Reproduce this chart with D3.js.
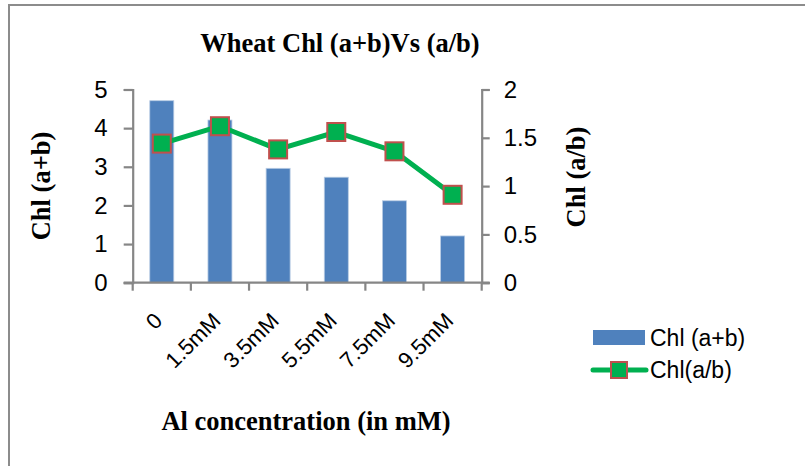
<!DOCTYPE html>
<html><head><meta charset="utf-8">
<script src="https://cdn.jsdelivr.net/npm/d3@7/dist/d3.min.js"></script>
<style>body{margin:0;background:#fff}</style>
</head><body>
<svg id="c" width="805" height="466"></svg>
<script>
const categories = ["0","1.5mM","3.5mM","5.5mM","7.5mM","9.5mM"];
const chlAB = [4.71, 4.21, 2.96, 2.73, 2.12, 1.21];
const chlRatio = [1.44, 1.62, 1.38, 1.56, 1.36, 0.91];
const leftTicks = [0,1,2,3,4,5];
const rightTicks = [0,0.5,1,1.5,2];

const svg = d3.select("#c");
const axisColor = "#868686";
// frame
svg.append("rect").attr("x",9).attr("y",5).attr("width",810).attr("height",480)
  .attr("fill","none").attr("stroke","#8c8c8c").attr("stroke-width",2);

const m = {l:132.7, r:481.7, t:89.5, b:282.7};
const x = d3.scaleBand().domain(categories).range([m.l,m.r]).paddingInner(0).paddingOuter(0);
const yL = d3.scaleLinear().domain([0,5]).range([m.b,m.t]);
const yR = d3.scaleLinear().domain([0,2]).range([m.b,m.t]);

// bars
const bw = 24;
svg.append("g").selectAll("rect").data(chlAB).join("rect")
  .attr("x",(d,i)=>x(categories[i])+x.bandwidth()/2-bw/2)
  .attr("y",d=>yL(d)).attr("width",bw).attr("height",d=>yL(0)-yL(d))
  .attr("fill","#4F81BD").attr("stroke","#b8cce4").attr("stroke-width",0.8);

// axes
const gL = svg.append("g").attr("transform",`translate(${m.l},0)`)
  .call(d3.axisLeft(yL).tickValues(leftTicks).tickSize(9).tickPadding(16).tickFormat(d3.format("d")));
const gR = svg.append("g").attr("transform",`translate(${m.r},0)`)
  .call(d3.axisRight(yR).tickValues(rightTicks).tickSize(8).tickPadding(14).tickFormat(d=>String(d)));
const gX = svg.append("g").attr("transform",`translate(0,${m.b})`)
  .call(d3.axisBottom(x).tickValues([]).tickSizeOuter(0));
[gL,gR].forEach(g=>{
  g.select(".domain").attr("stroke",axisColor).attr("stroke-width",2.2);
  g.selectAll(".tick line").attr("stroke",axisColor).attr("stroke-width",2.2);
  g.selectAll(".tick text").attr("font-family","Liberation Sans, Arial, sans-serif").attr("font-size",24).attr("fill","#000");
});
gX.select(".domain").remove();
// x axis line + ticks at band boundaries
svg.append("line").attr("x1",m.l-9).attr("x2",m.r+8).attr("y1",m.b).attr("y2",m.b)
  .attr("stroke",axisColor).attr("stroke-width",2.2);
const bounds = categories.map(c=>x(c)).concat([m.r]);
svg.append("g").selectAll("line").data(bounds).join("line")
  .attr("x1",d=>d).attr("x2",d=>d).attr("y1",m.b).attr("y2",m.b+8)
  .attr("stroke",axisColor).attr("stroke-width",2.2);
// x tick labels
svg.append("g").selectAll("text").data(categories).join("text")
  .attr("transform",d=>`translate(${x(d)+x.bandwidth()/2+2},322) rotate(-45)`)
  .attr("text-anchor","end").attr("font-family","Liberation Sans, Arial, sans-serif")
  .attr("font-size",22).text(d=>d);

// line
const line = d3.line().x((d,i)=>x(categories[i])+x.bandwidth()/2).y(d=>yR(d));
svg.append("path").datum(chlRatio).attr("d",line).attr("fill","none")
  .attr("stroke","#00B050").attr("stroke-width",5).attr("stroke-linejoin","round");
const ms = 18;
svg.append("g").selectAll("rect").data(chlRatio).join("rect")
  .attr("x",(d,i)=>x(categories[i])+x.bandwidth()/2-ms/2).attr("y",d=>yR(d)-ms/2)
  .attr("width",ms).attr("height",ms).attr("fill","#00B050").attr("stroke","#C0504D").attr("stroke-width",2);

// titles
const serif = "Liberation Serif, Times New Roman, serif";
svg.append("text").attr("x",340).attr("y",52).attr("text-anchor","middle")
  .attr("font-family",serif).attr("font-weight","bold").attr("font-size",26.5).text("Wheat Chl (a+b)Vs (a/b)");
svg.append("text").attr("x",306).attr("y",430).attr("text-anchor","middle")
  .attr("font-family",serif).attr("font-weight","bold").attr("font-size",26.5).text("Al concentration (in mM)");
svg.append("text").attr("transform","translate(50,186) rotate(-90)").attr("text-anchor","middle")
  .attr("font-family",serif).attr("font-weight","bold").attr("font-size",26.5).text("Chl (a+b)");
svg.append("text").attr("transform","translate(585,177) rotate(-90)").attr("text-anchor","middle")
  .attr("font-family",serif).attr("font-weight","bold").attr("font-size",26.5).text("Chl (a/b)");

// legend
const lg = svg.append("g");
lg.append("rect").attr("x",593).attr("y",330).attr("width",52).attr("height",15).attr("fill","#4F81BD");
lg.append("text").attr("x",650).attr("y",346).attr("font-family","Liberation Sans, Arial, sans-serif")
  .attr("font-size",23).text("Chl (a+b)");
lg.append("line").attr("x1",593).attr("x2",646).attr("y1",370).attr("y2",370)
  .attr("stroke","#00B050").attr("stroke-width",5).attr("stroke-linecap","round");
lg.append("rect").attr("x",611).attr("y",362).attr("width",16).attr("height",16)
  .attr("fill","#00B050").attr("stroke","#C0504D").attr("stroke-width",2);
lg.append("text").attr("x",650).attr("y",378).attr("font-family","Liberation Sans, Arial, sans-serif")
  .attr("font-size",23).text("Chl(a/b)");
</script>
</body></html>
